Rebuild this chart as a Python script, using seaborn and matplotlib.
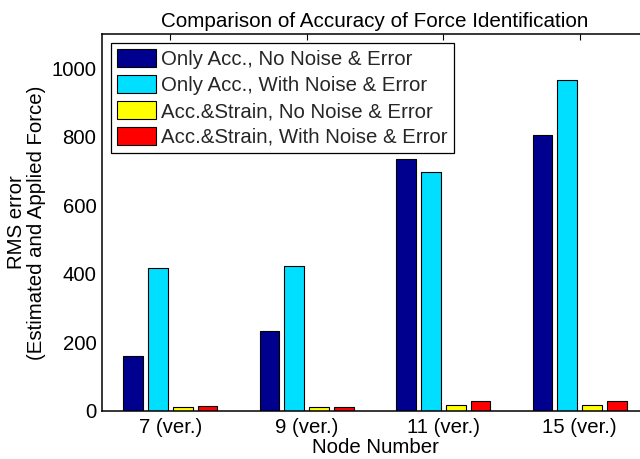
import matplotlib
matplotlib.use("Agg")
import matplotlib.pyplot as plt
import seaborn as sns
import pandas as pd
from matplotlib.patches import Patch

# Data: RMS error between estimated and applied force
nodes = ["7 (ver.)", "9 (ver.)", "11 (ver.)", "15 (ver.)"]
series = [
    "Only Acc., No Noise & Error",
    "Only Acc., With Noise & Error",
    "Acc.&Strain, No Noise & Error",
    "Acc.&Strain, With Noise & Error",
]
only_acc_clean = [160, 232, 735, 806]
only_acc_noisy = [418, 424, 698, 966]
acc_strain_clean = [11, 11, 18, 17]
acc_strain_noisy = [14, 12, 30, 30]
colors = ["#00008F", "#00DFFF", "#FFFF00", "#FF0000"]

values = [only_acc_clean, only_acc_noisy, acc_strain_clean, acc_strain_noisy]
df = pd.DataFrame(
    [(n, s, v) for s, vals in zip(series, values) for n, v in zip(nodes, vals)],
    columns=["node", "series", "rms"],
)

sns.set_style("white")
plt.rcParams["font.family"] = ["Liberation Sans", "DejaVu Sans"]
fs = 14.7

fig = plt.figure(figsize=(6.4, 4.59), dpi=100)
ax = fig.add_axes([102 / 640, 48 / 459, 546 / 640, 377 / 459])

sns.barplot(
    data=df, x="node", y="rms", hue="series", order=nodes, hue_order=series,
    palette=colors, width=0.727, gap=0.2, saturation=1.0,
    edgecolor="black", linewidth=0.8, ax=ax, legend=False,
)

ax.set_xlim(-0.5, 3.5)
ax.set_ylim(0, 1100)
ax.set_yticks([0, 200, 400, 600, 800, 1000])

for side in ["left", "right", "top", "bottom"]:
    ax.spines[side].set_visible(True)
    ax.spines[side].set_color("black")
    ax.spines[side].set_linewidth(1.1)

ax.tick_params(axis="both", direction="in", length=4, width=0.8, color="black",
               labelsize=fs, top=True, right=True, labelcolor="black")
ax.tick_params(axis="x", pad=5)
ax.tick_params(axis="y", pad=4)

ax.set_title("Comparison of Accuracy of Force Identification", fontsize=fs + 0.2,
             pad=5, color="black")
ax.set_xlabel("Node Number", fontsize=fs, labelpad=1, color="black")
ax.set_ylabel("RMS error\n(Estimated and Applied Force)", fontsize=fs,
              color="black", linespacing=1.05)
ax.yaxis.set_label_coords(-0.103, 0.5)

handles = [Patch(facecolor=c, edgecolor="black", linewidth=0.8) for c in colors]
leg = ax.legend(
    handles, series, loc="upper left", fontsize=fs, frameon=True, fancybox=False,
    framealpha=1, edgecolor="black", borderaxespad=0.45, borderpad=0.3,
    handlelength=1.9, handleheight=0.95, handletextpad=0.25, labelspacing=0.3,
)
leg.get_frame().set_linewidth(0.9)

fig.savefig("out.png", dpi=100)
